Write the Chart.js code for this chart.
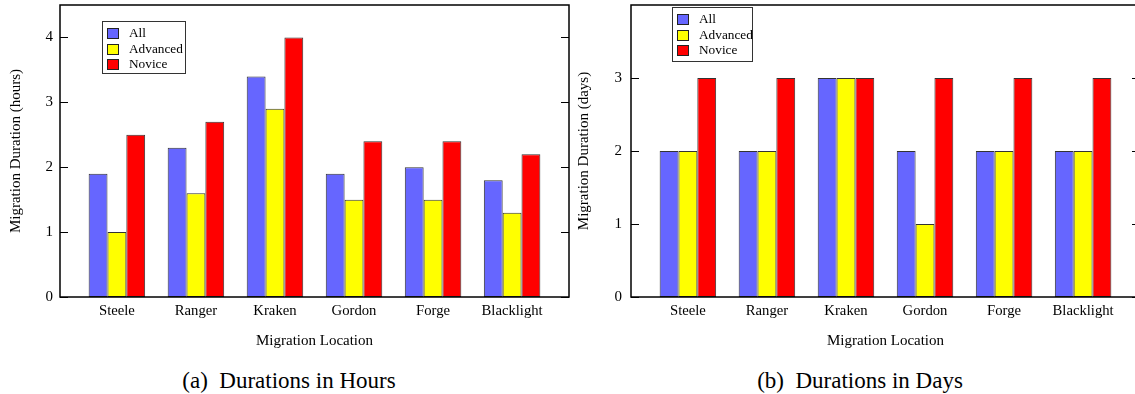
<!DOCTYPE html>
<html>
<head>
<meta charset="utf-8">
<title>Migration Durations</title>
<script src="https://cdn.jsdelivr.net/npm/chart.js@4.4.1/dist/chart.umd.min.js"></script>
<style>
  body { margin: 0; background: #fff; overflow: hidden; width: 1135px; height: 394px; position: relative; }
  canvas { position: absolute; top: 0; }
  #hoursChart { left: 0; }
  #daysChart { left: 571px; }
  .caption {
    position: absolute; top: 369px; line-height: 1;
    font-family: "Liberation Serif", "Times New Roman", serif; font-size: 23px; color: #000;
    transform: translateX(-50%); white-space: pre;
  }
</style>
</head>
<body>
<canvas id="hoursChart" width="571" height="350"></canvas>
<canvas id="daysChart" width="571" height="350"></canvas>
<div class="caption" style="left:289px">(a)  Durations in Hours</div>
<div class="caption" style="left:860px">(b)  Durations in Days</div>

<script>
Chart.defaults.font.family = '"Liberation Serif", "Times New Roman", serif';
Chart.defaults.color = '#000';

// DATA
const locations = ['Steele', 'Ranger', 'Kraken', 'Gordon', 'Forge', 'Blacklight'];
const seriesNames = ['All', 'Advanced', 'Novice'];
const seriesColors = ['#6666ff', '#ffff00', '#ff0000'];

// (a) hours
const hoursAll = [1.9, 2.3, 3.4, 1.9, 2.0, 1.8];
const hoursAdvanced = [1.0, 1.6, 2.9, 1.5, 1.5, 1.3];
const hoursNovice = [2.5, 2.7, 4.0, 2.4, 2.4, 2.2];
const hoursTicks = [0, 1, 2, 3, 4];

// (b) days
const daysAll = [2, 2, 3, 2, 2, 2];
const daysAdvanced = [2, 2, 3, 1, 2, 2];
const daysNovice = [3, 3, 3, 3, 3, 3];
const daysTicks = [0, 1, 2, 3];

// FRAME, MIRRORED INWARD TICKS AND BOXED LEGEND
const gnuplotFrame = {
  id: 'gnuplotFrame',
  afterDatasetsDraw(chart, args, opts) {
    const ctx = chart.ctx;
    const a = chart.chartArea;
    const y = chart.scales.y;
    ctx.save();
    ctx.strokeStyle = '#000';
    ctx.lineWidth = 1;
    y.ticks.forEach(t => {
      const py = Math.round(y.getPixelForValue(t.value)) + 0.5;
      ctx.beginPath();
      ctx.moveTo(a.left, py);
      ctx.lineTo(a.left + 8, py);
      ctx.moveTo(a.right, py);
      ctx.lineTo(a.right - 8, py);
      ctx.stroke();
    });
    ctx.lineWidth = 1.5;
    ctx.strokeRect(a.left, a.top, a.right - a.left, a.bottom - a.top);

    // legend box
    const lx = a.left + opts.left;
    const ly = a.top + opts.top;
    ctx.fillStyle = '#fff';
    ctx.fillRect(lx, ly, opts.width, opts.height);
    ctx.lineWidth = 1;
    ctx.strokeStyle = '#333';
    ctx.strokeRect(lx + 0.5, ly + 0.5, opts.width, opts.height);
    ctx.font = '13.3px "Liberation Serif", "Times New Roman", serif';
    ctx.textBaseline = 'middle';
    chart.data.datasets.forEach((ds, i) => {
      const cy = Math.round(ly + 12 + i * 15.5);
      ctx.fillStyle = ds.backgroundColor;
      ctx.fillRect(lx + 5, cy - 5, 12, 11);
      ctx.strokeStyle = '#222';
      ctx.strokeRect(lx + 5.5, cy - 4.5, 11, 10);
      ctx.fillStyle = '#000';
      ctx.fillText(ds.label, lx + 27, cy + 0.5);
    });
    ctx.restore();
  }
};

function makeChart(id, values, yMax, yTicks, yTitle, opts) {
  return new Chart(document.getElementById(id), {
    type: 'bar',
    data: {
      datasets: seriesNames.map((name, s) => ({
        label: name,
        data: values[s].map((v, i) => ({ x: i, y: v })),
        backgroundColor: seriesColors[s],
        borderColor: '#333',
        borderWidth: 1,
        borderSkipped: false,
        barPercentage: 1.0,
        categoryPercentage: 0.715
      }))
    },
    options: {
      responsive: false,
      animation: false,
      events: [],
      layout: { padding: { top: 5, right: 2, bottom: 0, left: 0 } },
      plugins: {
        legend: { display: false },
        tooltip: { enabled: false },
        gnuplotFrame: opts.legend
      },
      scales: {
        x: {
          type: 'linear',
          offset: false,
          min: -0.72,
          max: locations.length - 1 + 0.72,
          afterBuildTicks: s => { s.ticks = locations.map((c, i) => ({ value: i })); },
          afterFit: s => { s.height = 53; s.paddingLeft = 0; s.paddingRight = 0; },
          ticks: {
            callback: v => locations[v],
            font: { size: 14.7 },
            padding: 5,
            maxRotation: 0,
            autoSkip: false
          },
          grid: { display: false, drawTicks: false },
          border: { display: false },
          title: { display: true, text: 'Migration Location', font: { size: 15 }, padding: 0 }
        },
        y: {
          min: 0,
          max: yMax,
          afterBuildTicks: s => { s.ticks = yTicks.map(v => ({ value: v })); },
          afterFit: s => { s.width = 60; s.paddingTop = 0; s.paddingBottom = 0; },
          ticks: { font: { size: 15 }, padding: opts.tickPad },
          grid: { display: false, drawTicks: false },
          border: { display: false },
          title: { display: true, text: yTitle, font: { size: 15 }, padding: { top: opts.titlePad, bottom: 0 } }
        }
      }
    },
    plugins: [gnuplotFrame]
  });
}

// (a) DURATIONS IN HOURS
makeChart('hoursChart', [hoursAll, hoursAdvanced, hoursNovice], 4.5, hoursTicks,
  'Migration Duration (hours)',
  { tickPad: 7, titlePad: 7, legend: { left: 42, top: 16, width: 83, height: 52 } });

// (b) DURATIONS IN DAYS
makeChart('daysChart', [daysAll, daysAdvanced, daysNovice], 4, daysTicks,
  'Migration Duration (days)',
  { tickPad: 9, titlePad: 4.5, legend: { left: 41, top: 2, width: 80, height: 54 } });
</script>
</body>
</html>
